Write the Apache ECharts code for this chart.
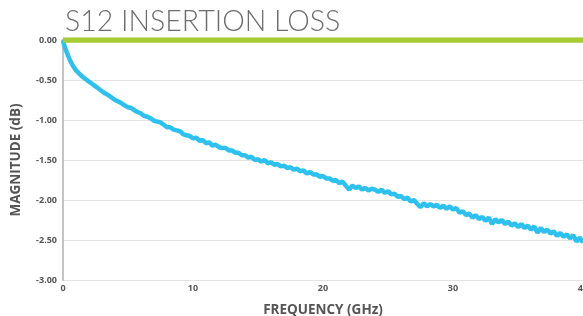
<!DOCTYPE html>
<html>
<head>
<meta charset="utf-8">
<script src="https://cdn.jsdelivr.net/npm/echarts@6/dist/echarts.min.js"></script>
<style>
  html, body { margin: 0; padding: 0; background: #fff; }
  #chart { width: 583px; height: 316px; }
</style>
</head>
<body>
<div id="chart"></div>
<script>
// S12 insertion loss

var freq = [0, 0.05, 0.1, 0.25, 0.5, 0.75, 1, 1.25, 1.5, 1.75, 2, 2.25, 2.5, 2.75, 3, 3.25, 3.5, 3.75,
    4, 4.25, 4.5, 4.75, 5, 5.25, 5.5, 5.75, 6, 6.25, 6.5, 6.75, 7, 7.25, 7.5, 7.75,
    8, 8.25, 8.5, 8.75, 9, 9.25, 9.5, 9.75, 10, 10.25, 10.5, 10.75, 11, 11.25, 11.5, 11.75,
    12, 12.25, 12.5, 12.75, 13, 13.25, 13.5, 13.75, 14, 14.25, 14.5, 14.75, 15, 15.25, 15.5, 15.75,
    16, 16.25, 16.5, 16.75, 17, 17.25, 17.5, 17.75, 18, 18.25, 18.5, 18.75, 19, 19.25, 19.5, 19.75,
    20, 20.25, 20.5, 20.75, 21, 21.25, 21.5, 21.75, 22, 22.25, 22.5, 22.75, 23, 23.25, 23.5, 23.75,
    24, 24.25, 24.5, 24.75, 25, 25.25, 25.5, 25.75, 26, 26.25, 26.5, 26.75, 27, 27.25, 27.5, 27.75,
    28, 28.25, 28.5, 28.75, 29, 29.25, 29.5, 29.75, 30, 30.25, 30.5, 30.75, 31, 31.25, 31.5, 31.75,
    32, 32.25, 32.5, 32.75, 33, 33.25, 33.5, 33.75, 34, 34.25, 34.5, 34.75, 35, 35.25, 35.5, 35.75,
    36, 36.25, 36.5, 36.75, 37, 37.25, 37.5, 37.75, 38, 38.25, 38.5, 38.75, 39, 39.25, 39.5, 39.75, 40];

var s12 = [0, -0.04, -0.07, -0.14, -0.24, -0.32, -0.38, -0.42, -0.46, -0.49, -0.52, -0.55, -0.58, -0.61, -0.64, -0.67, -0.69, -0.72,
    -0.75, -0.77, -0.79, -0.82, -0.84, -0.85, -0.88, -0.90, -0.92, -0.95, -0.96, -0.98, -1.01, -1.02, -1.03, -1.06,
    -1.09, -1.09, -1.12, -1.13, -1.14, -1.18, -1.19, -1.20, -1.23, -1.22, -1.26, -1.25, -1.29, -1.28, -1.32, -1.31,
    -1.34, -1.35, -1.35, -1.38, -1.38, -1.41, -1.41, -1.44, -1.44, -1.47, -1.46, -1.50, -1.49, -1.52, -1.50, -1.54,
    -1.53, -1.56, -1.55, -1.58, -1.57, -1.60, -1.59, -1.62, -1.61, -1.64, -1.63, -1.67, -1.65, -1.68, -1.68, -1.71,
    -1.70, -1.73, -1.73, -1.76, -1.75, -1.79, -1.77, -1.82, -1.87, -1.82, -1.85, -1.83, -1.87, -1.85, -1.88, -1.86,
    -1.87, -1.90, -1.87, -1.91, -1.89, -1.93, -1.92, -1.96, -1.95, -1.99, -1.97, -2.02, -2.00, -2.05, -2.09, -2.04,
    -2.08, -2.05, -2.08, -2.06, -2.10, -2.07, -2.11, -2.08, -2.12, -2.10, -2.16, -2.14, -2.19, -2.17, -2.22, -2.19,
    -2.24, -2.21, -2.26, -2.22, -2.30, -2.24, -2.28, -2.25, -2.30, -2.27, -2.32, -2.29, -2.34, -2.30, -2.35, -2.32,
    -2.37, -2.33, -2.41, -2.35, -2.40, -2.37, -2.42, -2.39, -2.45, -2.41, -2.46, -2.43, -2.48, -2.44, -2.52, -2.47, -2.53];

var refFreq = [0, 40];
var refLoss = [0, 0];

var xTicks = [0, 10, 20, 30, 40];
var yTicks = [0, -0.5, -1, -1.5, -2, -2.5, -3];

function pairs(xs, ys) {
    var out = [];
    for (var i = 0; i < xs.length; i++) {
        out.push([xs[i], ys[i]]);
    }
    return out;
}

var chart = echarts.init(document.getElementById('chart'));
var labelFont = {
    color: '#555',
    fontFamily: 'Open Sans',
    fontWeight: 'bold',
    fontSize: 9
};
var nameFont = {
    color: '#555',
    fontFamily: 'Open Sans',
    fontWeight: 'bold',
    fontSize: 13.5
};
var option = {
    animation: false,
    title: {
        text: 'S12 INSERTION LOSS',
        left: 60,
        top: 2,
        textStyle: {
            fontFamily: 'Lato',
            fontWeight: 300,
            fontSize: 28.5,
            color: '#6e6e6e'
        }
    },
    grid: {
        left: 63,
        right: 0,
        top: 40,
        bottom: 36,
        outerBoundsMode: 'none'
    },
    xAxis: {
        type: 'value',
        min: xTicks[0],
        max: xTicks[xTicks.length - 1],
        interval: 10,
        name: 'FREQUENCY (GHz)',
        nameLocation: 'middle',
        nameGap: 23,
        nameTextStyle: nameFont,
        axisLine: { show: true, lineStyle: { color: '#b0b0b0', width: 2 } },
        axisTick: { show: false },
        splitLine: { show: false },
        axisLabel: Object.assign({ margin: 4 }, labelFont)
    },
    yAxis: {
        type: 'value',
        min: yTicks[yTicks.length - 1],
        max: yTicks[0],
        interval: 0.5,
        name: 'MAGNITUDE (dB)',
        nameLocation: 'middle',
        nameGap: 40,
        nameTextStyle: nameFont,
        axisLine: { show: true, lineStyle: { color: '#c4c4c4', width: 2 } },
        axisTick: { show: false },
        splitLine: { show: true, lineStyle: { color: '#e2e2e2', width: 1 } },
        axisLabel: Object.assign({
            margin: 6,
            formatter: function (v) { return v.toFixed(2); }
        }, labelFont)
    },
    series: [{
        name: 'S12',
        type: 'line',
        data: pairs(freq, s12),
        showSymbol: false,
        lineStyle: { color: '#2cc1ee', width: 4.5 },
        z: 2
    }, {
        name: 'ref',
        type: 'line',
        data: pairs(refFreq, refLoss),
        showSymbol: false,
        lineStyle: { color: '#a6cc33', width: 5.5 },
        z: 3
    }]
};
chart.setOption(option);
</script>
</body>
</html>
